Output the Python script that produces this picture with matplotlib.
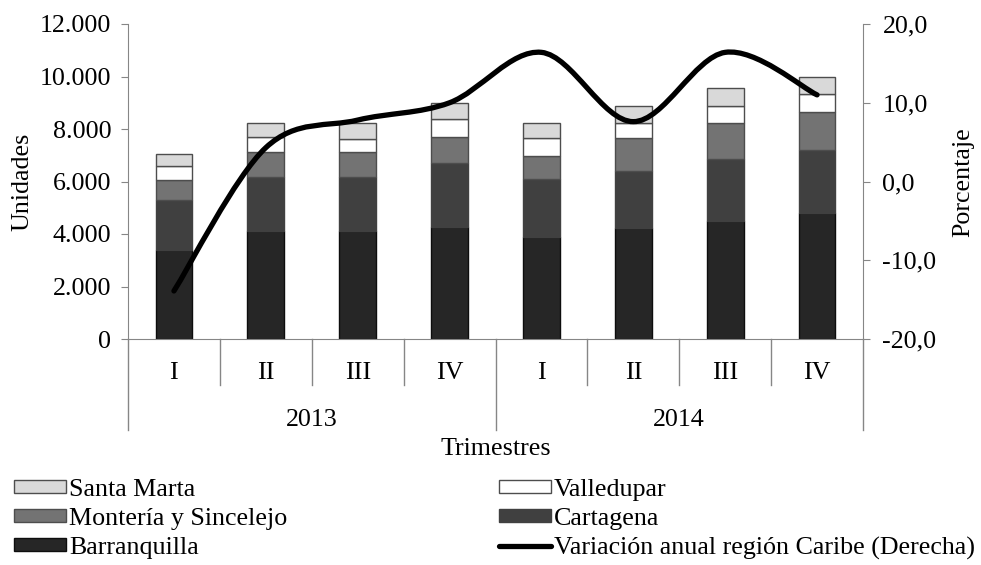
import matplotlib
matplotlib.use("Agg")
import matplotlib.pyplot as plt
import numpy as np
from matplotlib.path import Path
from matplotlib.patches import PathPatch, Patch
from matplotlib.lines import Line2D
from matplotlib.ticker import FuncFormatter

plt.rcParams['font.family'] = ['Liberation Serif', 'DejaVu Serif']
FS = 18.7

# ---- data ----
quarters = ["I", "II", "III", "IV", "I", "II", "III", "IV"]
years = ["2013", "2014"]
barranquilla = [3390, 4110, 4110, 4280, 3900, 4220, 4510, 4800]
cartagena = [1905, 2070, 2070, 2440, 2185, 2180, 2350, 2400]
monteria = [760, 940, 940, 990, 900, 1250, 1360, 1440]
valledupar = [535, 580, 495, 660, 660, 590, 670, 700]
santa_marta = [460, 535, 600, 610, 570, 650, 660, 660]
variacion = [-13.9, 4.3, 7.8, 10.0, 16.4, 7.6, 16.4, 11.0]

series = [
    ("Barranquilla", barranquilla, "#262626", "#0d0d0d"),
    ("Cartagena", cartagena, "#404040", "#404040"),
    ("Montería y Sincelejo", monteria, "#737373", "#4d4d4d"),
    ("Valledupar", valledupar, "#ffffff", "#4d4d4d"),
    ("Santa Marta", santa_marta, "#d9d9d9", "#4d4d4d"),
]

W, H = 981, 565
fig = plt.figure(figsize=(W / 100, H / 100), dpi=100)
L, R, T, B = 128, 863, 24, 339
ax = fig.add_axes([L / W, 1 - B / H, (R - L) / W, (B - T) / H])

x = np.arange(len(quarters))
bottom = np.zeros(len(quarters))
handles = {}
for name, vals, fc, ec in series:
    ax.bar(x, vals, width=0.4, bottom=bottom, color=fc, edgecolor=ec,
           linewidth=1.0, zorder=2)
    bottom += np.array(vals)
    handles[name] = Patch(facecolor=fc, edgecolor=ec, linewidth=1.0)

ax.set_xlim(-0.5, len(quarters) - 0.5)
ax.set_ylim(0, 12000)
ax.set_yticks(np.arange(0, 12001, 2000))
ax.yaxis.set_major_formatter(FuncFormatter(lambda v, p: f"{int(v):,}".replace(",", ".")))
ax.set_xticks([])
for s in ["top", "right"]:
    ax.spines[s].set_visible(False)
for s in ["left", "bottom"]:
    ax.spines[s].set_color("#868686")
ax.tick_params(axis="y", direction="out", length=5, color="#868686",
               labelsize=FS, pad=7)

# secondary axis with smooth line
ax2 = ax.twinx()
ax2.set_ylim(-20, 20)
ax2.set_yticks([-20, -10, 0, 10, 20])
ax2.yaxis.set_major_formatter(FuncFormatter(lambda v, p: f"{v:.1f}".replace(".", ",")))
for s in ["top", "left", "bottom"]:
    ax2.spines[s].set_visible(False)
ax2.spines["right"].set_color("#868686")
ax2.tick_params(axis="y", direction="out", length=5, color="#868686",
                labelsize=FS, pad=9)

def fy(p):
    return 1 - p / H

fig.text(22 / W, fy(182), "Unidades", rotation=90, ha="center", va="center",
         fontsize=FS)
fig.text(963 / W, fy(182), "Porcentaje", rotation=90, ha="center", va="center",
         fontsize=FS)

# Bezier (Excel-like smoothing) through the data points
px = x.astype(float)
py = np.array(variacion, dtype=float)
n = len(px)
verts = [(px[0], py[0])]
codes = [Path.MOVETO]
for i in range(n - 1):
    p0 = np.array([px[max(i - 1, 0)], py[max(i - 1, 0)]])
    p1 = np.array([px[i], py[i]])
    p2 = np.array([px[i + 1], py[i + 1]])
    p3 = np.array([px[min(i + 2, n - 1)], py[min(i + 2, n - 1)]])
    c1 = p1 + (p2 - p0) / 6.0
    c2 = p2 - (p3 - p1) / 6.0
    verts += [tuple(c1), tuple(c2), tuple(p2)]
    codes += [Path.CURVE4] * 3
path = Path(verts, codes)
ax2.add_patch(PathPatch(path, facecolor="none", edgecolor="black", lw=3.8,
                        capstyle="round", joinstyle="round", zorder=3))
line_handle = Line2D([], [], color="black", lw=3.8, solid_capstyle="round")

# category axis (two-level)
def ay(p):
    return (B - p) / (B - T)

tr = ax.get_xaxis_transform()
for i, q in enumerate(quarters):
    ax.text(i, ay(379), q, transform=tr, ha="center", va="baseline", fontsize=FS)
for k in range(len(quarters) + 1):
    xs = k - 0.5
    y_end = ay(430) if k % 4 == 0 else ay(385)
    ax.plot([xs, xs], [0, y_end], transform=tr, color="#868686", lw=1.0,
            clip_on=False)
for j, yr in enumerate(years):
    ax.text(j * 4 + 1.5, ay(426), yr, transform=tr, ha="center", va="baseline",
            fontsize=FS)
ax.text(3.5, ay(455), "Trimestres", transform=tr, ha="center", va="baseline",
        fontsize=FS)

# legend (two columns)
col1 = [("Santa Marta", handles["Santa Marta"]),
        ("Montería y Sincelejo", handles["Montería y Sincelejo"]),
        ("Barranquilla", handles["Barranquilla"])]
col2 = [("Valledupar", handles["Valledupar"]),
        ("Cartagena", handles["Cartagena"]),
        ("Variación anual región Caribe (Derecha)", line_handle)]
for cx, col in [(14, col1), (499, col2)]:
    fig.legend([h for _, h in col], [t for t, _ in col],
               loc="upper left", bbox_to_anchor=(cx / W, fy(479)),
               frameon=False, fontsize=FS, handlelength=2.0,
               handleheight=0.42, handletextpad=0.12, labelspacing=0.26,
               borderpad=0, borderaxespad=0)

fig.savefig("out.png", dpi=100)
